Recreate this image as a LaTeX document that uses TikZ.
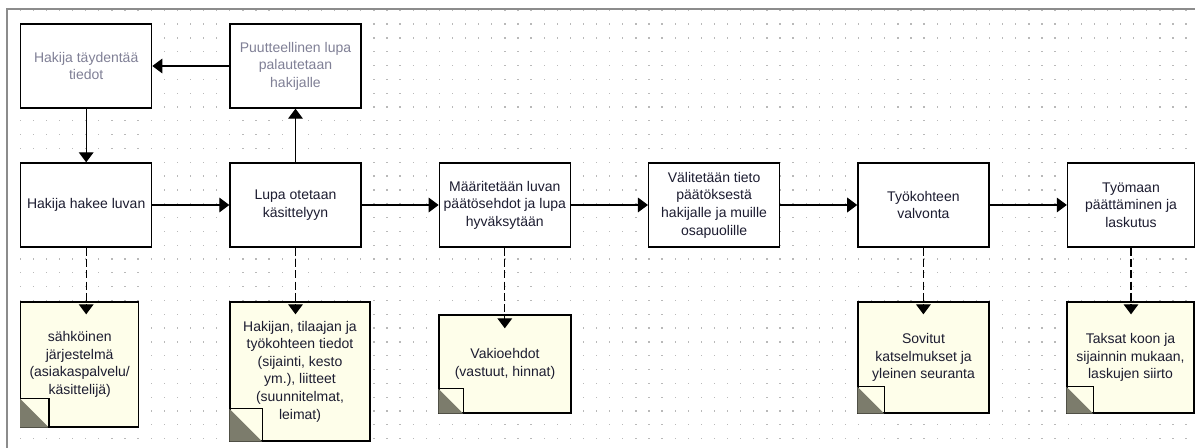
\documentclass[tikz,border=0pt]{standalone}
\usepackage{fontspec}
\setmainfont{Liberation Sans}
\usetikzlibrary{arrows.meta,calc}
\definecolor{noteFill}{RGB}{254,254,234}
\definecolor{foldDark}{RGB}{124,124,108}
\definecolor{textDark}{RGB}{28,28,48}
\definecolor{textGray}{RGB}{128,128,150}
\definecolor{dotGray}{RGB}{185,185,185}
\definecolor{frameGray}{RGB}{140,140,140}
\begin{document}
\begin{tikzpicture}[x=0.75pt, y=-0.75pt,
    processBox/.style={rectangle, draw, line width=1pt, fill=white, text=textDark, align=center, inner sep=0pt, minimum width=98.25pt, minimum height=63pt, font=\fontsize{10.5}{13.2}\selectfont},
    returnBox/.style={processBox, text=textGray},
    noteBox/.style={rectangle, draw, line width=1pt, fill=noteFill, text=textDark, align=center, inner sep=0pt, font=\fontsize{10.5}{13.2}\selectfont},
    flowArrow/.style={line width=0.9pt, -{Triangle[length=7.5pt, width=11pt]}},
    depArrow/.style={flowArrow, dash pattern=on 6pt off 2.5pt}]
    \fill[white] (0,0) rectangle (1195,448);
    \useasboundingbox (0,0) rectangle (1195,448);

    \foreach \gx in {0,...,90}
        \foreach \gy in {0,...,31}
            \fill[dotGray] ({6.4+13.1*\gx},{9.6+13.82*\gy}) rectangle ++(1.3,1.3);
    \draw[frameGray, line width=1.6pt] (7,450) -- (7,9) -- (1197,9);

    \node[returnBox] (taydentaa) at ( 86.2, 66) {Hakija täydentää\\tiedot};
    \node[returnBox] (palautus)  at (295.5, 66) {Puutteellinen lupa\\palautetaan\\hakijalle};

    \node[processBox] (hakee)     at (  86.2, 205) {Hakija hakee luvan};
    \node[processBox] (kasittely) at ( 295.5, 205) {Lupa otetaan\\käsittelyyn};
    \node[processBox] (ehdot)     at ( 504.8, 205) {Määritetään luvan\\päätösehdot ja lupa\\hyväksytään};
    \node[processBox] (tiedotus)  at ( 714.1, 205) {Välitetään tieto\\päätöksestä\\hakijalle ja muille\\osapuolille};
    \node[processBox] (valvonta)  at ( 923.4, 205) {Työkohteen\\valvonta};
    \node[processBox, minimum width=95.25pt] (lopetus) at (1131, 205) {Työmaan\\päättäminen ja\\laskutus};

    \node[noteBox, minimum width=88.5pt, minimum height=93.75pt] (jarjestelma) at (79.7, 364.5) {sähköinen\\järjestelmä\\(asiakaspalvelu/\\käsittelijä)};
    \node[noteBox, minimum width=105pt, minimum height=104.25pt] (hakutiedot) at (300, 371.5) {Hakijan, tilaajan ja\\työkohteen tiedot\\(sijainti, kesto\\ym.), liitteet\\(suunnitelmat,\\leimat)};
    \node[noteBox, minimum width=99pt, minimum height=73.5pt] (vakioehdot) at (505, 364) {Vakioehdot\\(vastuut, hinnat)};
    \node[noteBox, minimum width=98.25pt, minimum height=83.25pt] (katselmus) at (923.5, 357.5) {Sovitut\\katselmukset ja\\yleinen seuranta};
    \node[noteBox, minimum width=95.25pt, minimum height=83.25pt] (taksat) at (1130.5, 357.5) {Taksat koon ja\\sijainnin mukaan,\\laskujen siirto};

    \foreach \n/\s in {jarjestelma/29, hakutiedot/33, vakioehdot/25, katselmus/27, taksat/27} {
        \fill[foldDark] (\n.south west) -- ++(\s,0) -- ++(-\s,-\s) -- cycle;
        \draw[line width=1pt] (\n.south west) ++(0,-\s) -- ++(\s,0) -- ++(0,\s);
    }

    \draw[flowArrow] (palautus.west) -- (taydentaa.east);
    \draw[flowArrow] (taydentaa.south) -- (hakee.north);
    \draw[flowArrow] (kasittely.north) -- (palautus.south);
    \draw[flowArrow] (hakee.east) -- (kasittely.west);
    \draw[flowArrow] (kasittely.east) -- (ehdot.west);
    \draw[flowArrow] (ehdot.east) -- (tiedotus.west);
    \draw[flowArrow] (tiedotus.east) -- (valvonta.west);
    \draw[flowArrow] (valvonta.east) -- (lopetus.west);

    \draw[depArrow] (hakee.south) -- ($(hakee.south |- jarjestelma.north)+(0,13)$);
    \draw[depArrow] (kasittely.south) -- ($(kasittely.south |- hakutiedot.north)+(0,13)$);
    \draw[depArrow] (ehdot.south) -- ($(ehdot.south |- vakioehdot.north)+(0,14)$);
    \draw[depArrow] (valvonta.south) -- ($(valvonta.south |- katselmus.north)+(0,13)$);
    \draw[depArrow] (lopetus.south) -- ($(lopetus.south |- taksat.north)+(0,13)$);
\end{tikzpicture}
\end{document}
